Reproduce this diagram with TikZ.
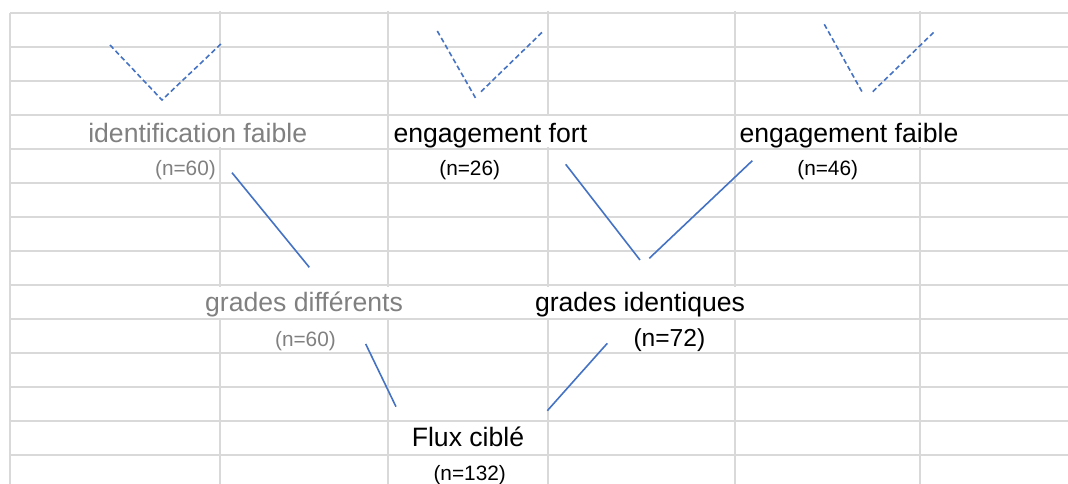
\documentclass[tikz,border=0pt]{standalone}
\usepackage{fontspec}
\setmainfont{Liberation Sans}
\definecolor{gridgray}{RGB}{217,217,217}
\definecolor{linkblue}{RGB}{68,114,196}
\definecolor{fadedgray}{RGB}{128,128,128}
\tikzset{cell/.style={draw=gridgray, line width=2pt},
  big/.style={inner sep=0pt, font=\fontsize{26.6}{30}\selectfont},
  small/.style={inner sep=0pt, font=\fontsize{20.8}{24}\selectfont},
  faded/.style={text=fadedgray},
  link/.style={draw=linkblue, line width=1.6pt},
  weak/.style={link, dash pattern=on 5pt off 3pt}}

\begin{document}
\begin{tikzpicture}[x=1pt, y=-1pt]
\useasboundingbox (0,0) rectangle (1068,484);
\foreach \y in {13,47,...,455} \draw[cell] (10,\y) -- (1068,\y);
\foreach \x in {220,388,548,735,920} \draw[cell] (\x,11) -- (\x,484);
\draw[cell] (10,13) -- (10,484);
\foreach \x/\r in {220/3,548/3,920/3,220/8,388/8,548/8,735/8}
  \fill[white] (\x-2,13+34*\r+1.5) rectangle (\x+2,13+34*\r+32.5);

\node[big, faded, anchor=base] (idf) at (197.7,142.5) {identification faible};
\node[small, faded, anchor=base east] (nidf) at (216,175.7) {(n=60)};
\node[big, anchor=base west] (ef) at (393.3,142.3) {engagement fort};
\node[small, anchor=base] (nef) at (469.7,175.7) {(n=26)};
\node[big, anchor=base west] (efa) at (739.3,142.3) {engagement faible};
\node[small, anchor=base] (nefa) at (827.7,175.7) {(n=46)};
\node[big, faded, anchor=base] (gd) at (304,311.7) {grades différents};
\node[small, faded, anchor=base east] (ngd) at (336,346.7) {(n=60)};
\node[big, anchor=base] (gi) at (640,311.7) {grades identiques};
\node[inner sep=0pt, font=\fontsize{24.6}{28}\selectfont, anchor=base west] (ngi) at (633.3,346.7) {(n=72)};
\node[big, anchor=base] (flux) at (468,446.7) {Flux ciblé};
\node[small, anchor=base] (nflux) at (469.7,480) {(n=132)};

\coordinate (idfL) at (110,45);
\coordinate (idfV) at (162,100);
\coordinate (idfR) at (223,42);
\coordinate (efL) at (437.3,31);
\coordinate (efV) at (475.7,98.3);
\coordinate (efW) at (481,91.7);
\coordinate (efR) at (542.7,31.7);
\coordinate (efaL) at (824.3,24.3);
\coordinate (efaV) at (862.3,92.3);
\coordinate (efaW) at (872.7,91.7);
\coordinate (efaR) at (934.3,31.7);
\coordinate (gdT) at (232,172.7);
\coordinate (gdB) at (309.3,267.3);
\coordinate (giL) at (565.7,164.3);
\coordinate (giV) at (640,260);
\coordinate (giW) at (649.3,258.3);
\coordinate (giR) at (752.3,160.7);
\coordinate (fluxL) at (365.7,344);
\coordinate (fluxV) at (396,406.7);
\coordinate (fluxW) at (547.3,410.7);
\coordinate (fluxR) at (607.3,343.3);

\draw[weak] (idfL) -- (idfV) -- (idfR);
\draw[weak] (efL) -- (efV);
\draw[weak] (efW) -- (efR);
\draw[weak] (efaL) -- (efaV);
\draw[weak] (efaW) -- (efaR);
\draw[link] (gdT) -- (gdB);
\draw[link] (giL) -- (giV);
\draw[link] (giW) -- (giR);
\draw[link] (fluxL) -- (fluxV);
\draw[link] (fluxW) -- (fluxR);
\end{tikzpicture}
\end{document}
